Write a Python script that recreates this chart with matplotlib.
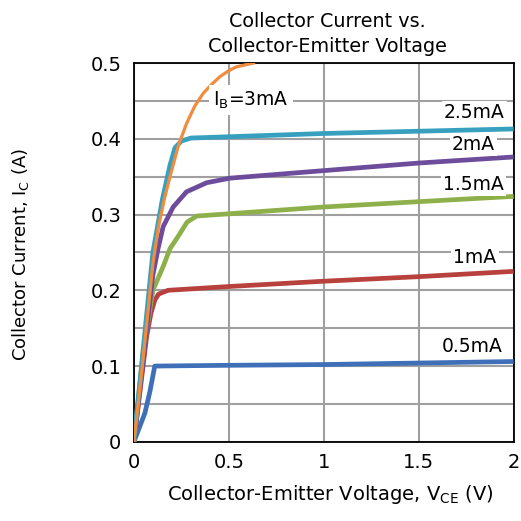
# -*- coding: utf-8 -*-
"""
Collector current vs collector-emitter voltage curves.
"""

import numpy as np
import matplotlib
matplotlib.use('Agg')
import matplotlib.pyplot as plt
from matplotlib.ticker import MultipleLocator, FormatStrFormatter

plt.rcParams['font.family'] = ['DejaVu Sans']
plt.rcParams['mathtext.fontset'] = 'custom'
plt.rcParams['mathtext.rm'] = 'DejaVu Sans'

# Base current labels
ibLabels = ['0.5mA', '1mA', '1.5mA', '2mA', '2.5mA', 'I$_\\mathregular{B}$=3mA']

# Curves (V_CE in V, I_C in A)
vce05 = [0, 0.058, 0.084, 0.11, 0.5, 1.0, 1.5, 2.0]
ic05 = [0, 0.038, 0.066, 0.100, 0.101, 0.102, 0.104, 0.106]

vce10 = [0, 0.067, 0.09, 0.11, 0.13, 0.18, 0.5, 1.0, 1.5, 2.0]
ic10 = [0, 0.139, 0.170, 0.187, 0.195, 0.200, 0.205, 0.212, 0.218, 0.225]

vce15 = [0, 0.05, 0.10, 0.155, 0.19, 0.23, 0.28, 0.33, 0.5, 1.0, 1.5, 2.0]
ic15 = [0, 0.12, 0.20, 0.232, 0.255, 0.270, 0.290, 0.298, 0.301, 0.310, 0.317, 0.324]

vce20 = [0, 0.10, 0.128, 0.154, 0.207, 0.277, 0.383, 0.505, 1.0, 1.5, 2.0]
ic20 = [0, 0.22, 0.256, 0.284, 0.310, 0.330, 0.342, 0.348, 0.358, 0.368, 0.376]

vce25 = [0, 0.10, 0.15, 0.19, 0.216, 0.25, 0.30, 1.0, 1.5, 2.0]
ic25 = [0, 0.25, 0.32, 0.365, 0.388, 0.397, 0.401, 0.407, 0.410, 0.413]

vce30 = [0, 0.04, 0.10, 0.13, 0.16, 0.19, 0.233, 0.277, 0.32, 0.365, 0.41,
         0.453, 0.50, 0.54, 0.63]
ic30 = [0, 0.09, 0.235, 0.285, 0.32, 0.35, 0.39, 0.42, 0.443, 0.46, 0.472,
        0.482, 0.490, 0.495, 0.50]

colors = ['#3F6FB8', '#B8403D', '#8DB04A', '#6E4C9C', '#36A0BE', '#F08C3E']

fig = plt.figure(figsize=(5.21, 5.21), dpi=100)
ax = fig.add_axes([0.257, 0.152, 0.729, 0.727])

curves = [(vce05, ic05), (vce10, ic10), (vce15, ic15),
          (vce20, ic20), (vce25, ic25)]
for (v, i), c in zip(curves, colors[:5]):
    ax.plot(v, i, color=c, lw=3.4, solid_capstyle='butt', zorder=3)
ax.plot(vce30, ic30, color=colors[5], lw=2.3, zorder=4)

ax.set_xlim(0, 2)
ax.set_ylim(0, 0.5)
ax.xaxis.set_major_locator(MultipleLocator(0.5))
ax.yaxis.set_major_locator(MultipleLocator(0.1))
ax.yaxis.set_minor_locator(MultipleLocator(0.05))
ax.xaxis.set_major_formatter(FormatStrFormatter('%g'))
ax.yaxis.set_major_formatter(FormatStrFormatter('%g'))
ax.grid(True, which='both', color='#a0a0a0', lw=1.5)
ax.set_axisbelow(True)
ax.tick_params(which='both', length=0, labelsize=14)
ax.tick_params(axis='y', pad=9)
ax.tick_params(axis='x', pad=8)
for s in ax.spines.values():
    s.set_linewidth(1.3)

# Curve labels
box = dict(facecolor='white', edgecolor='none', pad=1.5)
ax.text(0.616, 0.451, ibLabels[5], ha='center', va='center', fontsize=13.5,
        bbox=dict(facecolor='white', edgecolor='none', pad=3), zorder=5)
labelPos = [(1.94, 0.126), (1.91, 0.243), (1.95, 0.340), (1.90, 0.392),
            (1.953, 0.435)]
for lab, (x, y) in zip(ibLabels[:5], labelPos):
    ax.text(x, y, lab, ha='right', va='center', fontsize=13.5, bbox=box,
            zorder=5)

ax.set_title('Collector Current vs.\nCollector-Emitter Voltage',
             fontsize=13.8, pad=8, linespacing=1.4, x=0.51)
ax.set_xlabel('Collector-Emitter Voltage, V$_\\mathregular{CE}$ (V)',
              fontsize=14)
ax.xaxis.set_label_coords(0.518, -0.11)
ax.set_ylabel('Collector Current, I$_\\mathregular{C}$ (A)', fontsize=13)
ax.yaxis.set_label_coords(-0.272, 0.493)

fig.savefig('out.png', dpi=100)
